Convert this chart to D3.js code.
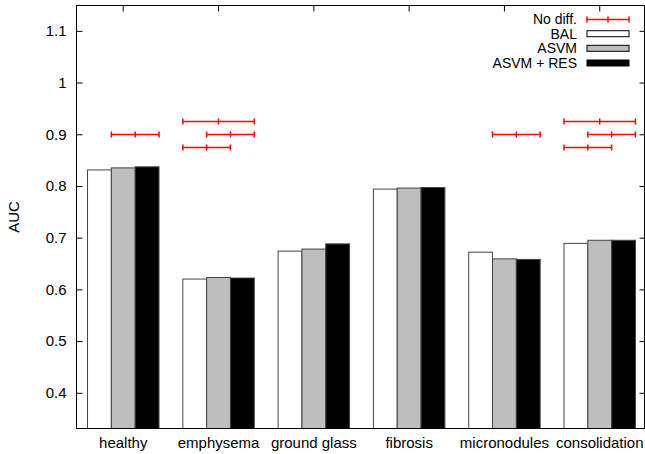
<!DOCTYPE html>
<meta charset="utf-8">
<style>
body { margin: 0; background: #fff; }
text { font: 15px "Liberation Sans", Arial, sans-serif; fill: #000; }
.legend text { font-size: 14px; }
</style>
<body>
<script src="https://d3js.org/d3.v7.min.js"></script>
<script>
var categories = ["healthy", "emphysema", "ground glass", "fibrosis", "micronodules", "consolidation"];
var seriesNames = ["BAL", "ASVM", "ASVM + RES"];
var balAUC  = [0.831, 0.620, 0.674, 0.794, 0.672, 0.689];
var asvmAUC = [0.835, 0.623, 0.678, 0.796, 0.659, 0.695];
var resAUC  = [0.837, 0.622, 0.688, 0.797, 0.658, 0.695];
var yTicks = [0.4, 0.5, 0.6, 0.7, 0.8, 0.9, 1, 1.1];

// "No diff." intervals: category, height, first and last bar covered
var noDiffCat  = ["healthy", "emphysema", "emphysema", "emphysema", "micronodules", "consolidation", "consolidation", "consolidation"];
var noDiffY    = [0.9, 0.925, 0.9, 0.875, 0.9, 0.925, 0.9, 0.875];
var noDiffFrom = ["ASVM", "BAL", "ASVM", "BAL", "ASVM", "BAL", "ASVM", "BAL"];
var noDiffTo   = ["ASVM + RES", "ASVM + RES", "ASVM + RES", "ASVM", "ASVM + RES", "ASVM + RES", "ASVM + RES", "ASVM"];

var fills = ["#ffffff", "#bebebe", "#000000"];
var values = [balAUC, asvmAUC, resAUC];

var W = 645, H = 454;
var pLeft = 76.5, pRight = 644.5, pTop = 5.5, pBottom = 428.5;

var svg = d3.select("body").append("svg")
    .attr("width", W)
    .attr("height", H);

var x = d3.scaleBand()
    .domain(categories)
    .range([78, 645])
    .paddingInner(0.25)
    .paddingOuter(0.1);

var xs = d3.scaleBand()
    .domain(seriesNames)
    .range([0, x.bandwidth()]);

var y = d3.scaleLinear()
    .domain([0.33, 1.15])
    .range([429, 5]);

// bottom tics (hidden under bars like the original)
svg.append("g")
  .selectAll("line")
  .data(categories)
  .enter().append("line")
    .attr("x1", function(d) { return x(d) + x.bandwidth() / 2; })
    .attr("x2", function(d) { return x(d) + x.bandwidth() / 2; })
    .attr("y1", pBottom)
    .attr("y2", pBottom - 6)
    .attr("stroke", "#000");

// bars
var groups = svg.append("g")
  .selectAll("g")
  .data(categories)
  .enter().append("g")
    .attr("transform", function(d) { return "translate(" + x(d) + ",0)"; });

groups.selectAll("rect")
    .data(function(d, i) {
      return seriesNames.map(function(s, j) { return {s: s, j: j, v: values[j][i]}; });
    })
  .enter().append("rect")
    .attr("x", function(d) { return xs(d.s); })
    .attr("width", xs.bandwidth())
    .attr("y", function(d) { return y(d.v); })
    .attr("height", function(d) { return pBottom - y(d.v); })
    .attr("fill", function(d) { return fills[d.j]; })
    .attr("stroke", "#444")
    .attr("stroke-width", 1);

// y axis left and right
var yAxisL = d3.axisLeft(y).tickValues(yTicks).tickSizeInner(-6).tickSizeOuter(0).tickPadding(10)
    .tickFormat(d3.format("~g"));
var yAxisR = d3.axisRight(y).tickValues(yTicks).tickSizeInner(-5).tickSizeOuter(0).tickFormat("");

svg.append("g")
    .attr("transform", "translate(" + pLeft + ",0)")
    .call(yAxisL)
    .call(function(g) { g.select(".domain").remove(); g.selectAll("text").style("font-size", "15px").attr("font-family", null); });

svg.append("g")
    .attr("transform", "translate(" + pRight + ",0)")
    .call(yAxisR)
    .call(function(g) { g.select(".domain").remove(); });

// x axis labels
var xAxisB = d3.axisBottom(x).tickSize(0).tickPadding(9);
svg.append("g")
    .attr("transform", "translate(0," + pBottom + ")")
    .call(xAxisB)
    .call(function(g) { g.select(".domain").remove(); g.selectAll("text").style("font-size", "15px").attr("font-family", null); });

// top mirror tics
var xAxisT = d3.axisTop(x).tickSizeInner(-6).tickSizeOuter(0).tickFormat("");
svg.append("g")
    .attr("transform", "translate(0," + pTop + ")")
    .call(xAxisT)
    .call(function(g) { g.select(".domain").remove(); });

svg.selectAll(".tick line").attr("stroke", "#000");

// frame
svg.append("rect")
    .attr("x", pLeft).attr("y", pTop)
    .attr("width", pRight - pLeft).attr("height", pBottom - pTop)
    .attr("fill", "none")
    .attr("stroke", "#000")
    .attr("stroke-width", 1);

// y label
svg.append("text")
    .attr("transform", "translate(14," + ((pTop + pBottom) / 2) + ") rotate(-90)")
    .attr("text-anchor", "middle")
    .attr("dy", "0.35em")
    .text("AUC");

// no diff error bars
var red = "#ff0000";
function errBar(g, x0, x1, yy) {
  var xm = (x0 + x1) / 2;
  g.append("line").attr("x1", x0).attr("x2", x1).attr("y1", yy).attr("y2", yy);
  [x0, xm, x1].forEach(function(xx) {
    g.append("line").attr("x1", xx).attr("x2", xx).attr("y1", yy - 3).attr("y2", yy + 3);
  });
}
var eb = svg.append("g").attr("stroke", red).attr("stroke-width", 1.5);
noDiffCat.forEach(function(c, i) {
  var x0 = x(c) + xs(noDiffFrom[i]);
  var x1 = x(c) + xs(noDiffTo[i]) + xs.bandwidth();
  errBar(eb.append("g"), x0, x1, Math.round(y(noDiffY[i])) + 0.5);
});

// legend
var legendY = [19, 33.7, 48.3, 63];
var lx0 = 587, lx1 = 629, ltx = 577;
var leg = svg.append("g").attr("class", "legend");
var legLabels = ["No diff."].concat(seriesNames);
leg.selectAll("text")
    .data(legLabels)
  .enter().append("text")
    .attr("x", ltx)
    .attr("y", function(d, i) { return legendY[i]; })
    .attr("dy", "0.35em")
    .attr("text-anchor", "end")
    .text(function(d) { return d; });

errBar(leg.append("g").attr("stroke", red).attr("stroke-width", 1.5), lx0, lx1, legendY[0] + 0.5);

seriesNames.forEach(function(s, j) {
  leg.append("rect")
      .attr("x", lx0).attr("width", lx1 - lx0)
      .attr("y", legendY[j + 1] - 3).attr("height", 6)
      .attr("fill", fills[j])
      .attr("stroke", "#000")
      .attr("stroke-width", 1);
});
</script>
</body>
